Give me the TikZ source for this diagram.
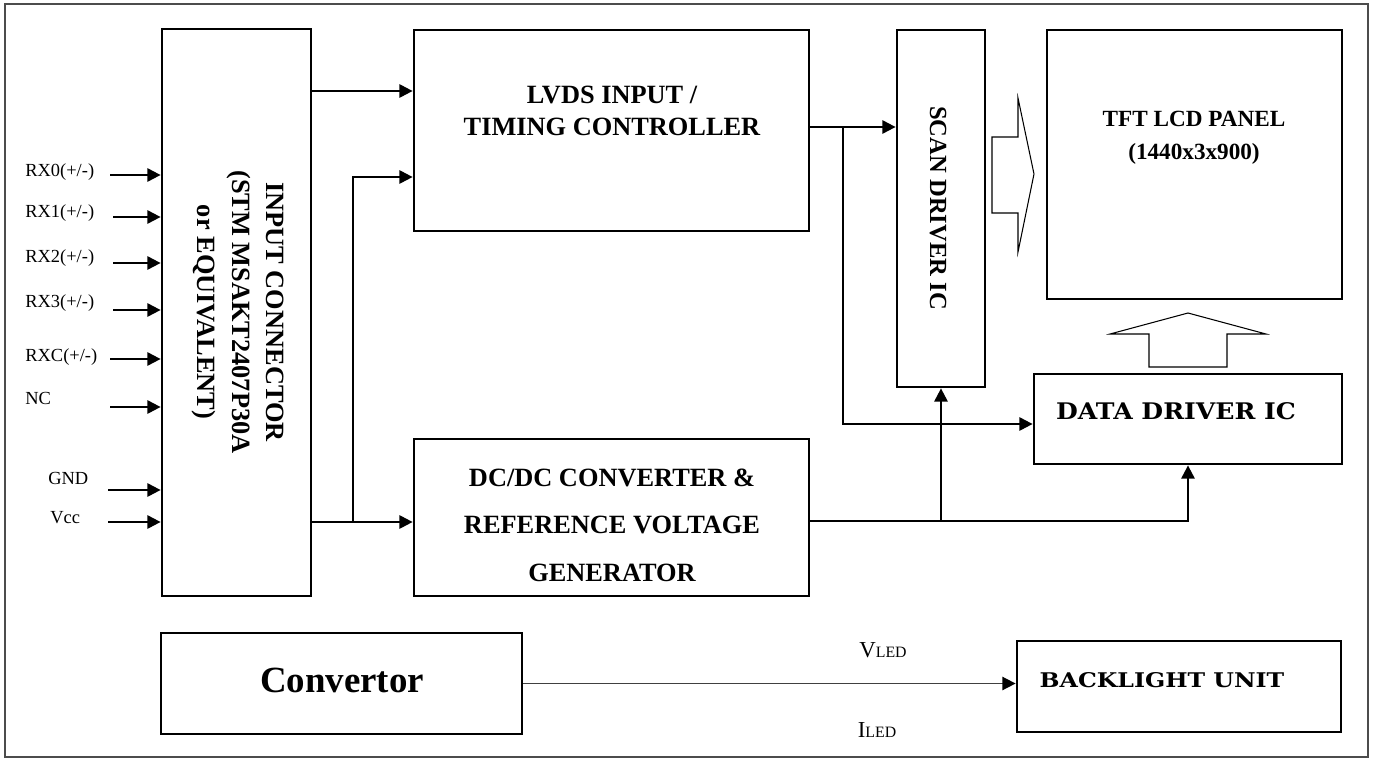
\documentclass[tikz,border=0pt]{standalone}
\usepackage{fontspec}
\setmainfont{Liberation Serif}
\newfontfamily\slabfont{DejaVu Serif}
\usetikzlibrary{arrows.meta}

\begin{document}
\begin{tikzpicture}[x=0.02cm, y=-0.02cm,
  box/.style={draw, line width=1.6pt, inner sep=0pt},
  wire/.style={line width=1.2pt},
  arr/.style={wire, -{Triangle[length=7.5pt, width=7.5pt]}},
  thinarr/.style={line width=0.9pt, black!75, -{Triangle[length=7.5pt, width=7.5pt, black]}},
  hollow/.style={draw, line width=0.6pt},
  pin/.style={anchor=west, inner sep=0pt, font=\fontsize{10.5}{12}\selectfont},
  bigtxt/.style={font=\fontsize{15}{18}\selectfont\bfseries, align=center, inner sep=0pt}]
  \useasboundingbox (0,0) rectangle (1374,758);
  \draw[line width=0.8pt, black!70] (5,4) rectangle (1368,757);

  \node[box, minimum width=2.98cm, minimum height=11.34cm] (conn) at (236.5,312.5) {};
  \node[box, minimum width=7.9cm, minimum height=4.02cm] (lvds) at (611.5,130.5) {};
  \node[box, minimum width=1.76cm, minimum height=7.14cm] (scan) at (941,208.5) {};
  \node[box, minimum width=5.9cm, minimum height=5.38cm] (panel) at (1194.5,164.5) {};
  \node[box, minimum width=6.16cm, minimum height=1.8cm] (data) at (1188,419) {};
  \node[box, minimum width=7.9cm, minimum height=3.14cm] (dcdc) at (611.5,517.5) {};
  \node[box, minimum width=7.22cm, minimum height=2.02cm] (conv) at (341.5,683.5) {};
  \node[box, minimum width=6.48cm, minimum height=1.82cm] (back) at (1179,686.5) {};

  \node[bigtxt, rotate=-90, font=\fontsize{15}{19.6}\selectfont\bfseries] (conntxt) at (238,312) {INPUT CONNECTOR\\(STM MSAKT2407P30A\\or EQUIVALENT)};
  \node[bigtxt] (lvdstxt) at (612,111) {LVDS INPUT /\\TIMING CONTROLLER};
  \node[bigtxt, rotate=-90, font=\fontsize{14}{17}\selectfont\bfseries] (scantxt) at (938,208) {SCAN DRIVER IC};
  \node[bigtxt, font=\fontsize{13.2}{18.7}\selectfont\bfseries] (paneltxt) at (1194,138) {TFT LCD PANEL\\(1440x3x900)};
  \node[bigtxt, font=\fontsize{13}{16}\slabfont\bfseries] (datatxt) at (1176,411) {\scalebox{1.1}[1]{DATA DRIVER IC}};
  \node[bigtxt] (dcdctxt) at (612,525) {DC/DC CONVERTER \&\\[9pt]REFERENCE VOLTAGE\\[9pt]GENERATOR};
  \node[bigtxt, font=\fontsize{21}{24}\selectfont\bfseries] (convtxt) at (342,680) {Convertor};
  \node[bigtxt, font=\fontsize{11.5}{13}\slabfont\bfseries] (backtxt) at (1162,680) {\scalebox{1.17}[1]{BACKLIGHT UNIT}};

  \foreach \name/\lab/\lx/\ly/\ax/\ay in {rx0/{RX0(+/-)}/25/172/110/175, rx1/{RX1(+/-)}/25/213/113/217,
      rx2/{RX2(+/-)}/25/258/113/263, rx3/{RX3(+/-)}/25/303/113/310, rxc/{RXC(+/-)}/25/357/110/359,
      nc/NC/25/398/110/407, gnd/GND/48/478/108/490, vcc/Vcc/50/518/108/522} {
    \node[pin] (\name) at (\lx,\ly) {\lab};
    \coordinate (s\name) at (\ax,\ay);
    \draw[arr] (s\name) -- (s\name -| conn.west);
  }

  \coordinate (j1) at (353,522);
  \coordinate (j2) at (843,127);
  \coordinate (j3) at (941,521);
  \coordinate (t1) at (0,91);
  \coordinate (t2) at (0,177);
  \coordinate (t3) at (0,424);
  \draw[arr] (conn.east |- t1) -- (lvds.west |- t1);
  \draw[arr] (conn.east |- j1) -- (dcdc.west |- j1);
  \draw[arr] (j1) |- (lvds.west |- t2);
  \draw[arr] (lvds.east |- j2) -- (scan.west |- j2);
  \draw[arr] (j2) |- (data.west |- t3);
  \draw[arr] (dcdc.east |- j3) -| (data.south);
  \draw[arr] (j3) -- (scan.south);
  \draw[thinarr] (conv.east) -- (back.west |- conv.east);

  \node[font=\fontsize{13}{15}\selectfont] (vled) at (883,650) {V{\fontsize{9}{10}\selectfont LED}};
  \node[font=\fontsize{13}{15}\selectfont] (iled) at (877,730) {I{\fontsize{9}{10}\selectfont LED}};

  \draw[hollow] (992,137) -- (1018,137) -- (1018,98) -- (1034,174) -- (1018,252) -- (1018,213) -- (992,213) -- cycle;
  \draw[hollow] (1149,367) -- (1149,334) -- (1110,334) -- (1188,313) -- (1266,334) -- (1227,334) -- (1227,367) -- cycle;

\end{tikzpicture}
\end{document}
